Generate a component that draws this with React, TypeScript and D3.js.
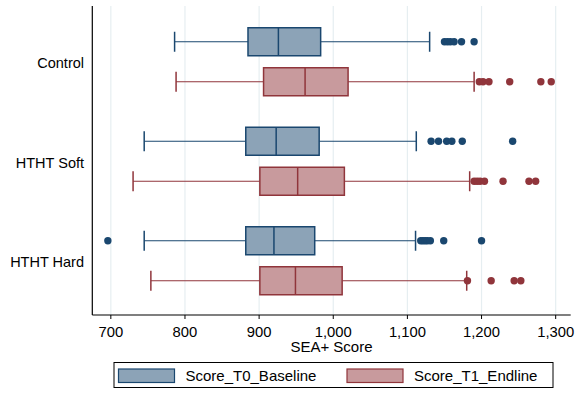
import React from "react";
import * as d3 from "d3";

const groups = ["Control", "HTHT Soft", "HTHT Hard"];
const seriesNames = ["Score_T0_Baseline", "Score_T1_Endline"];
// [whisker low, q1, median, q3, whisker high]
const t0Stats = [
  [786, 885, 926, 983, 1130],
  [745, 882, 923, 981, 1112],
  [745, 882, 920, 975, 1111],
];
const t1Stats = [
  [788, 906, 962, 1020, 1190],
  [730, 901, 952, 1015, 1184],
  [754, 901, 949, 1012, 1180],
];
const t0Outliers = [
  [1150, 1154, 1158, 1163, 1173, 1190],
  [1132, 1142, 1153, 1160, 1174, 1242],
  [696, 1118, 1121, 1124, 1127, 1131, 1149, 1200],
];
const t1Outliers = [
  [1197, 1202, 1210, 1238, 1280, 1294],
  [1190, 1194, 1198, 1204, 1229, 1264, 1273],
  [1181, 1213, 1244, 1253],
];
const xTicks = [700, 800, 900, 1000, 1100, 1200, 1300];

const W = 576;
const H = 394;
const FONT = "'Liberation Sans', Arial, Helvetica, sans-serif";

const strokeCols = ["#1a476f", "#90353b"];
const fillCols = ["#8ca3b7", "#c89a9d"];

export default function App() {
  const x = d3.scaleLinear().domain([675, 1320]).range([92.3, 570.5]);
  const y = d3.scaleBand<string>().domain(groups).range([12, 310.5]).padding(0);
  const fmt = d3.format(",");
  const plotTop = 6;
  const plotBottom = 315;
  const boxH = 28;
  const capH = 20;
  const stats = [t0Stats, t1Stats];
  const outs = [t0Outliers, t1Outliers];

  return (
    <svg width={W} height={H} style={{ position: "absolute", left: 0, top: 0, background: "#fff" }} fontFamily={FONT}>
      {xTicks.map((t) => (
        <line key={"g" + t} x1={x(t)} x2={x(t)} y1={plotTop} y2={plotBottom} stroke="#e6eef1" strokeWidth={1.2} />
      ))}
      {groups.map((g, gi) => {
        const cy = (y(g) as number) + y.bandwidth() / 2;
        return stats.map((st, si) => {
          const [lo, q1, med, q3, hi] = st[gi];
          const yc = cy + (si === 0 ? -20 : 20);
          const sc = strokeCols[si];
          return (
            <g key={g + si}>
              <line x1={x(lo)} x2={x(q1)} y1={yc} y2={yc} stroke={sc} strokeWidth={1.2} />
              <line x1={x(q3)} x2={x(hi)} y1={yc} y2={yc} stroke={sc} strokeWidth={1.2} />
              <line x1={x(lo)} x2={x(lo)} y1={yc - capH / 2} y2={yc + capH / 2} stroke={sc} strokeWidth={1.5} />
              <line x1={x(hi)} x2={x(hi)} y1={yc - capH / 2} y2={yc + capH / 2} stroke={sc} strokeWidth={1.5} />
              <rect x={x(q1)} y={yc - boxH / 2} width={x(q3) - x(q1)} height={boxH} fill={fillCols[si]} stroke={sc} strokeWidth={1.5} />
              <line x1={x(med)} x2={x(med)} y1={yc - boxH / 2} y2={yc + boxH / 2} stroke={sc} strokeWidth={1.5} />
              {outs[si][gi].map((v, k) => (
                <circle key={k} cx={x(v)} cy={yc} r={3.7} fill={sc} />
              ))}
            </g>
          );
        });
      })}
      <line x1={92.3} x2={92.3} y1={plotTop} y2={plotBottom} stroke="#000" strokeWidth={1.2} />
      <line x1={92.3} x2={570.7} y1={plotBottom} y2={plotBottom} stroke="#000" strokeWidth={1.2} />
      {xTicks.map((t) => (
        <g key={"t" + t}>
          <line x1={x(t)} x2={x(t)} y1={plotBottom} y2={plotBottom + 4} stroke="#000" strokeWidth={1} />
          <text x={x(t)} y={336.5} textAnchor="middle" fontSize={14.8} fill="#000">
            {fmt(t)}
          </text>
        </g>
      ))}
      <text x={331.5} y={352} textAnchor="middle" fontSize={15} fill="#000">SEA+ Score</text>
      {groups.map((g) => (
        <text key={"l" + g} x={84} y={(y(g) as number) + y.bandwidth() / 2 + 6.5} textAnchor="end" fontSize={14.5} fill="#000">
          {g}
        </text>
      ))}
      <rect x={114} y={362.5} width={439} height={25} fill="#fff" stroke="#000" strokeWidth={1} />
      {seriesNames.map((s, i) => {
        const sx = i === 0 ? 118.5 : 347;
        return (
          <g key={s}>
            <rect x={sx} y={369} width={56} height={13.5} fill={fillCols[i]} stroke={strokeCols[i]} strokeWidth={1.2} />
            <text x={sx + 67} y={381} fontSize={15} fill="#000">{s}</text>
          </g>
        );
      })}
    </svg>
  );
}
